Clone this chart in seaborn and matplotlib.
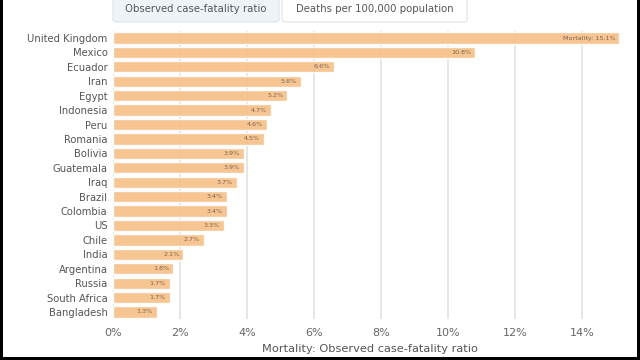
import matplotlib
matplotlib.use("Agg")
import matplotlib.pyplot as plt
import seaborn as sns
import pandas as pd
from matplotlib.patches import Rectangle, FancyBboxPatch

countries = ["United Kingdom", "Mexico", "Ecuador", "Iran", "Egypt", "Indonesia",
             "Peru", "Romania", "Bolivia", "Guatemala", "Iraq", "Brazil", "Colombia",
             "US", "Chile", "India", "Argentina", "Russia", "South Africa", "Bangladesh"]
mortality = [15.1, 10.8, 6.6, 5.6, 5.2, 4.7, 4.6, 4.5, 3.9, 3.9, 3.7, 3.4, 3.4,
             3.3, 2.7, 2.1, 1.8, 1.7, 1.7, 1.3]
xticks = [0, 2, 4, 6, 8, 10, 12, 14]
tab_labels = ["Observed case-fatality ratio", "Deaths per 100,000 population"]
xlabel = "Mortality: Observed case-fatality ratio"

df = pd.DataFrame({"country": countries, "mortality": mortality})

sns.set_theme(style="white")
plt.rcParams["font.family"] = ["DejaVu Sans"]

fig = plt.figure(figsize=(6.4, 3.6), dpi=100)
W, H = 640, 360
left, right = 113, 626
top, bottom = 30.8, 319.2
ax = fig.add_axes([left / W, 1 - bottom / H, (right - left) / W, (bottom - top) / H])

ax.set_axisbelow(True)
for t in xticks:
    ax.axvline(t, color="#e2e2e2", lw=1.2, zorder=0)

sns.barplot(data=df, x="mortality", y="country", ax=ax, color="#f6c088",
            saturation=1, width=0.78, alpha=0.92, zorder=2)

for i, (c, v) in enumerate(zip(countries, mortality)):
    lab = f"Mortality: {v}%" if i == 0 else f"{v}%"
    ax.text(v - 0.12, i, lab, ha="right", va="center", fontsize=4.6,
            color="#7a6450", zorder=3)

ax.set_xlim(0, 15.3)
ax.set_xticks(xticks)
ax.set_xticklabels([f"{t}%" for t in xticks], fontsize=8, color="#666666")
ax.tick_params(axis="y", labelsize=7.2, labelcolor="#555555", length=0, pad=4)
ax.tick_params(axis="x", length=0, pad=6)
ax.set_ylabel("")
ax.set_xlabel(xlabel, fontsize=8.2, color="#555555", labelpad=5)
for s in ax.spines.values():
    s.set_visible(False)

# tabs at top
tabs = [(113, 279, "#eef3f7"), (282, 467, "#ffffff")]
for (x0, x1, fc), lab in zip(tabs, tab_labels):
    fig.patches.append(FancyBboxPatch((x0 / W, 1 - 22 / H), (x1 - x0) / W, 28 / H,
                                      boxstyle="round,pad=0,rounding_size=0.006",
                                      transform=fig.transFigure, facecolor=fc,
                                      edgecolor="#dde3e8", lw=0.8))
    fig.text((x0 + x1) / 2 / W, 1 - 9 / H, lab, ha="center", va="center",
             fontsize=7.3, color="#555555")

# black frame
fig.patches.append(Rectangle((0, 0), 3 / W, 1, transform=fig.transFigure,
                             facecolor="black", edgecolor="none"))
fig.patches.append(Rectangle((637 / W, 0), 3 / W, 1, transform=fig.transFigure,
                             facecolor="black", edgecolor="none"))
fig.patches.append(Rectangle((0, 0), 1, 3 / H, transform=fig.transFigure,
                             facecolor="black", edgecolor="none"))

fig.savefig("out.png", dpi=100)
